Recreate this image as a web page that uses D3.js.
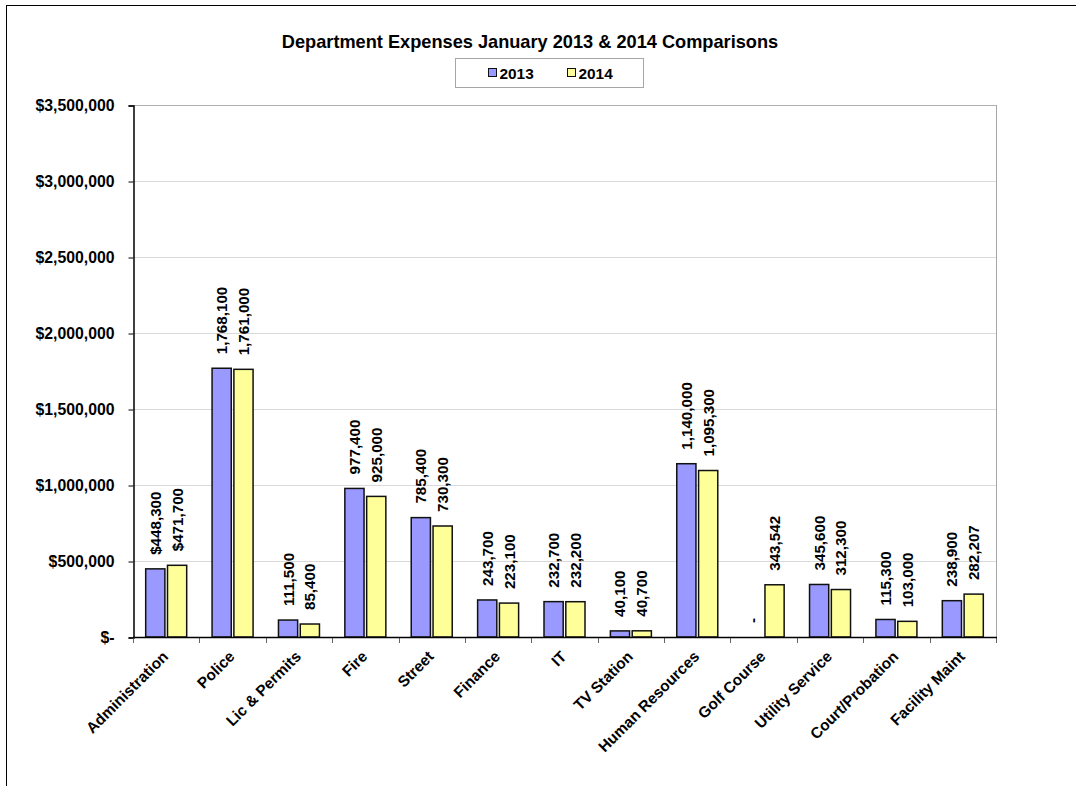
<!DOCTYPE html>
<html>
<head>
<meta charset="utf-8">
<script src="https://cdn.jsdelivr.net/npm/d3@7"></script>
<style>
  html, body { margin: 0; padding: 0; background: #fff; }
  svg { display: block; font-family: "Liberation Sans", Arial, sans-serif; }
</style>
</head>
<body>
<svg id="chart" width="1076" height="786"></svg>
<script>
// Department expenses, January 2013 vs January 2014
const departments = ["Administration", "Police", "Lic & Permits", "Fire", "Street", "Finance",
  "IT", "TV Station", "Human Resources", "Golf Course", "Utility Service", "Court/Probation", "Facility Maint"];
const expenses2013 = [448300, 1768100, 111500, 977400, 785400, 243700, 232700, 40100, 1140000, 0, 345600, 115300, 238900];
const expenses2014 = [471700, 1761000, 85400, 925000, 730300, 223100, 232200, 40700, 1095300, 343542, 312300, 103000, 282207];
const seriesNames = ["2013", "2014"];
const seriesColors = ["#9999FF", "#FFFF99"];
const yTicks = [0, 500000, 1000000, 1500000, 2000000, 2500000, 3000000, 3500000];
// departments whose value labels carry a currency sign
const currencyLabelDepts = ["Administration"];

const svg = d3.select("#chart");
const W = 1076, H = 786;

// outer chart frame (extends past the right and bottom edges)
svg.append("rect")
  .attr("x", 6.5).attr("y", 5.5)
  .attr("width", W + 20).attr("height", H + 20)
  .attr("fill", "#fff").attr("stroke", "#000").attr("stroke-width", 1);

const plot = { left: 133, right: 996, top: 105, bottom: 637 };

const x = d3.scaleBand().domain(departments).range([plot.left, plot.right]).padding(0);
const groupHalf = 20.5;
const xSeries = d3.scaleBand().domain(seriesNames).range([-groupHalf, groupHalf]).paddingInner(0.12);
const y = d3.scaleLinear().domain([0, 3500000]).range([plot.bottom, plot.top]);

// gridlines
svg.append("g").selectAll("line").data(yTicks.filter(d => d > 0)).join("line")
  .attr("x1", plot.left).attr("x2", plot.right)
  .attr("y1", d => Math.round(y(d)) + 0.5).attr("y2", d => Math.round(y(d)) + 0.5)
  .attr("stroke", d => d === 3500000 ? "#b0b0b0" : "#d9d9d9").attr("stroke-width", 1);

// plot area border on right
svg.append("line")
  .attr("x1", plot.right + 0.5).attr("x2", plot.right + 0.5)
  .attr("y1", plot.top).attr("y2", plot.bottom)
  .attr("stroke", "#a6a6a6");

// y axis
const yFmt = v => v === 0 ? "$-" : "$" + d3.format(",")(v);
const yAxis = d3.axisLeft(y).tickValues(yTicks).tickFormat(yFmt).tickSize(5).tickPadding(14);
const gy = svg.append("g").attr("transform", `translate(${plot.left + 0.5},0.5)`).call(yAxis);
gy.select(".domain").attr("stroke", "#000").attr("stroke-width", 1.5);
gy.selectAll(".tick line").attr("stroke", "#000");
gy.selectAll(".tick text")
  .attr("font-family", "'Liberation Sans', Arial, sans-serif")
  .attr("font-size", 15.8).attr("font-weight", "bold").attr("fill", "#000");

// bars
const rows = departments.map((d, i) => ({ dept: d, values: [expenses2013[i], expenses2014[i]] }));
const groups = svg.append("g").selectAll("g").data(rows).join("g")
  .attr("transform", d => `translate(${x(d.dept) + x.bandwidth() / 2},0)`);

groups.selectAll("rect")
  .data(d => d.values.map((v, k) => ({ v, s: seriesNames[k], k })).filter(e => e.v > 0))
  .join("rect")
  .attr("x", e => xSeries(e.s))
  .attr("width", xSeries.bandwidth())
  .attr("y", e => y(e.v))
  .attr("height", e => y(0) - y(e.v))
  .attr("fill", e => seriesColors[e.k])
  .attr("stroke", "#111").attr("stroke-width", 1.5);

// value labels, rotated, above each bar
const labelFmt = (v, dept) => v === 0 ? "-" :
  (currencyLabelDepts.includes(dept) ? "$" : "") + d3.format(",")(v);

groups.selectAll("text")
  .data(d => d.values.map((v, k) => ({ v, s: seriesNames[k], dept: d.dept })))
  .join("text")
  .attr("transform", e => `translate(${xSeries(e.s) + xSeries.bandwidth() / 2},${y(e.v) - 14}) rotate(-90)`)
  .attr("dy", "0.36em")
  .attr("text-anchor", "start")
  .attr("font-size", 15.2).attr("font-weight", "bold").attr("fill", "#000")
  .text(e => labelFmt(e.v, e.dept));

// x axis
const xAxis = d3.axisBottom(x).tickSize(0).tickFormat(d => d);
const gx = svg.append("g").attr("transform", `translate(0,${plot.bottom + 0.5})`).call(xAxis);
gx.select(".domain").remove();
gx.selectAll(".tick text")
  .attr("font-family", "'Liberation Sans', Arial, sans-serif")
  .attr("font-size", 15.4).attr("font-weight", "bold").attr("fill", "#000")
  .attr("text-anchor", "end")
  .attr("dy", 0).attr("y", 0)
  .attr("transform", "translate(3,20) rotate(-45)");

// category separator ticks
const bounds = departments.map(d => x(d)).concat([plot.right]);
svg.append("g").selectAll("line").data(bounds).join("line")
  .attr("x1", d => Math.round(d) + 0.5).attr("x2", d => Math.round(d) + 0.5)
  .attr("y1", plot.bottom).attr("y2", plot.bottom + 6)
  .attr("stroke", "#666");

svg.append("line")
  .attr("x1", plot.left).attr("x2", plot.right + 1)
  .attr("y1", plot.bottom + 0.5).attr("y2", plot.bottom + 0.5)
  .attr("stroke", "#000").attr("stroke-width", 1.5);

// title
svg.append("text")
  .attr("x", 530).attr("y", 48)
  .attr("text-anchor", "middle")
  .attr("font-size", 18.2).attr("font-weight", "bold")
  .text("Department Expenses January 2013 & 2014 Comparisons");

// legend
const legend = svg.append("g").attr("transform", "translate(455.5,58.5)");
legend.append("rect").attr("width", 188).attr("height", 29)
  .attr("fill", "#fff").attr("stroke", "#a6a6a6");
const legendX = [33, 112];
seriesNames.forEach((s, k) => {
  legend.append("rect")
    .attr("x", legendX[k]).attr("y", 10)
    .attr("width", 8).attr("height", 8)
    .attr("fill", seriesColors[k]).attr("stroke", "#111").attr("stroke-width", 1);
  legend.append("text")
    .attr("x", legendX[k] + 11).attr("y", 20)
    .attr("font-size", 15.4).attr("font-weight", "bold")
    .text(s);
});
</script>
</body>
</html>
